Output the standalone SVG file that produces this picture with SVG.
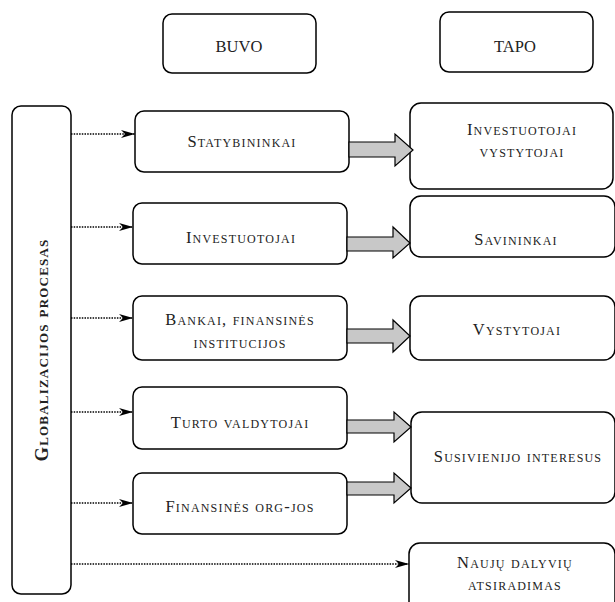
<svg xmlns="http://www.w3.org/2000/svg" width="615" height="602" viewBox="0 0 615 602">
  <style>
    .box { fill: #fff; stroke: #000; stroke-width: 1.5; }
    .lbl { font-family: "Liberation Serif", "Times New Roman", serif; font-size: 16.5px; letter-spacing: 1.2px; font-variant: small-caps; text-anchor: middle; fill: #222; }
    .hdr { font-family: "Liberation Serif", "Times New Roman", serif; font-size: 16.5px; text-anchor: middle; fill: #222; }
    .dot { fill: none; stroke: #000; stroke-width: 1.3; stroke-dasharray: 1.5 1.2; }
    .fat { fill: #c8c8c8; stroke: #000; stroke-width: 1.2; stroke-linejoin: miter; }
  </style>
  <defs>
    <marker id="dart" markerUnits="userSpaceOnUse" markerWidth="16" markerHeight="10" refX="14" refY="5" orient="auto">
      <path d="M0,1 L14,5 L0,9 L4,5 Z" fill="#000"/>
    </marker>
  </defs>

  <!-- column headers -->
  <g id="buvo">
    <rect class="box" x="163" y="14" width="153" height="59" rx="9"/>
    <text class="hdr" x="239" y="52">BUVO</text>
  </g>
  <g id="tapo">
    <rect class="box" x="440" y="12" width="153" height="60" rx="9"/>
    <text class="hdr" x="515" y="52">TAPO</text>
  </g>

  <!-- vertical process bar -->
  <g id="globalizacija">
    <rect class="box" x="12" y="106" width="59" height="488" rx="9"/>
    <text transform="translate(48,350) rotate(-90)" font-family="'Liberation Serif', 'Times New Roman', serif" font-size="18.5" letter-spacing="1.2" font-weight="bold" font-variant="small-caps" text-anchor="middle" fill="#222">Globalizacijos procesas</text>
  </g>

  <!-- before -->
  <g id="statybininkai">
    <rect class="box" x="135" y="111" width="214" height="61" rx="9"/>
    <text class="lbl" x="242" y="147">Statybininkai</text>
  </g>
  <g id="investuotojai">
    <rect class="box" x="133" y="203" width="214" height="61" rx="9"/>
    <text class="lbl" x="241" y="243">Investuotojai</text>
  </g>
  <g id="bankai">
    <rect class="box" x="133" y="296" width="214" height="64" rx="9"/>
    <text class="lbl" x="240" y="325">Bankai, finansinės</text>
    <text class="lbl" x="240" y="348">institucijos</text>
  </g>
  <g id="turto-valdytojai">
    <rect class="box" x="133" y="387" width="214" height="62" rx="9"/>
    <text class="lbl" x="240" y="428">Turto valdytojai</text>
  </g>
  <g id="finansines-org">
    <rect class="box" x="133" y="473" width="214" height="61" rx="9"/>
    <text class="lbl" x="240" y="512">Finansinės org-jos</text>
  </g>

  <!-- after -->
  <g id="investuotojai-vystytojai">
    <rect class="box" x="410" y="103" width="203" height="86" rx="11"/>
    <text class="lbl" x="522" y="135">Investuotojai</text>
    <text class="lbl" x="522" y="157">vystytojai</text>
  </g>
  <g id="savininkai">
    <rect class="box" x="410" y="196" width="205" height="61" rx="11"/>
    <text class="lbl" x="516" y="245">Savininkai</text>
  </g>
  <g id="vystytojai">
    <rect class="box" x="410" y="296" width="205" height="64" rx="11"/>
    <text class="lbl" x="517" y="335">Vystytojai</text>
  </g>
  <g id="susivienijo">
    <rect class="box" x="411" y="412" width="204" height="91" rx="11"/>
    <text class="lbl" x="518" y="462">Susivienijo interesus</text>
  </g>
  <g id="nauju-dalyviu">
    <rect class="box" x="409" y="543" width="206" height="80" rx="11"/>
    <text class="lbl" x="515" y="568">Naujų dalyvių</text>
    <text class="lbl" x="515" y="590">atsiradimas</text>
  </g>

  <!-- connectors -->
  <g id="connectors">
    <line class="dot" x1="71" y1="134" x2="135" y2="134" marker-end="url(#dart)"/>
    <line class="dot" x1="71" y1="227" x2="133" y2="227" marker-end="url(#dart)"/>
    <line class="dot" x1="71" y1="318" x2="133" y2="318" marker-end="url(#dart)"/>
    <line class="dot" x1="71" y1="412" x2="133" y2="412" marker-end="url(#dart)"/>
    <line class="dot" x1="71" y1="503" x2="133" y2="503" marker-end="url(#dart)"/>
    <line class="dot" x1="71" y1="564" x2="409" y2="564" marker-end="url(#dart)"/>

    <path class="fat" d="M349,142 H395 V134 L413,150 L395,166 V157 H349 Z"/>
    <path class="fat" d="M347,237 H393 V227 L410,243 L393,258 V251 H347 Z"/>
    <path class="fat" d="M347,329 H393 V320 L410,336 L393,352 V343 H347 Z"/>
    <path class="fat" d="M347,420 H394 V412 L411,427 L394,442 V433 H347 Z"/>
    <path class="fat" d="M347,482 H394 V473 L411,488 L394,503 V495 H347 Z"/>
  </g>
</svg>
